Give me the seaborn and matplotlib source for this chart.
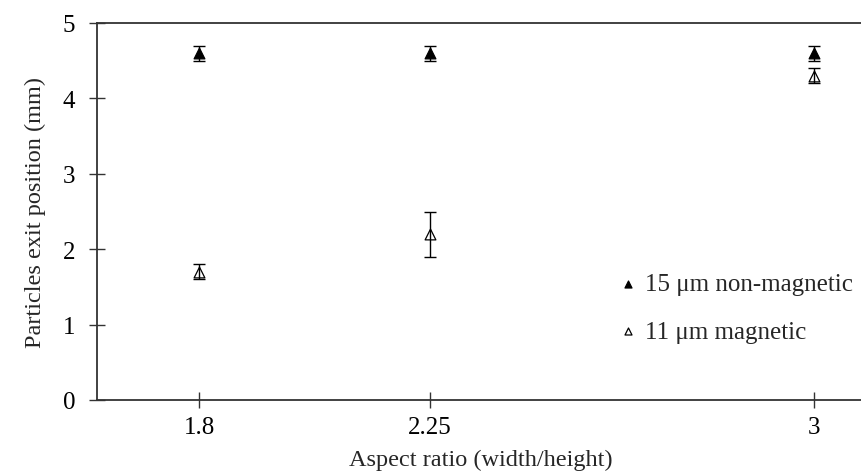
import matplotlib
matplotlib.use("Agg")
import matplotlib.pyplot as plt
import seaborn as sns
import pandas as pd

aspect_ratio = [1.8, 2.25, 3.0]
nonmag_pos = [4.6, 4.6, 4.6]
nonmag_err = [0.1, 0.1, 0.1]
mag_pos = [1.7, 2.2, 4.3]
mag_err = [0.1, 0.3, 0.1]
series_labels = ["15 μm non-magnetic", "11 μm magnetic"]
x_ticks = [1.8, 2.25, 3]
x_ticklabels = ["1.8", "2.25", "3"]
y_ticks = [0, 1, 2, 3, 4, 5]

sns.set_style("white")
plt.rcParams['font.family'] = ['Liberation Serif', 'DejaVu Serif']

df = pd.DataFrame({
    "x": aspect_ratio * 2,
    "y": nonmag_pos + mag_pos,
    "err": nonmag_err + mag_err,
    "series": [series_labels[0]] * 3 + [series_labels[1]] * 3,
})

fig = plt.figure(figsize=(8.62, 4.77), dpi=100)
W, H = 862, 477
ax = fig.add_axes([97 / W, 1 - 401 / H, 768 / W, 377 / H])

sns.scatterplot(data=df[df.series == series_labels[0]], x="x", y="y", ax=ax,
                marker="^", color="black", edgecolor="black", s=60,
                linewidth=0.9, zorder=3, label=series_labels[0])
sns.scatterplot(data=df[df.series == series_labels[1]], x="x", y="y", ax=ax,
                marker="^", color="white", edgecolor="black", s=60,
                linewidth=0.9, zorder=3, label=series_labels[1])

for s in series_labels:
    d = df[df.series == s]
    ax.errorbar(d.x, d.y, yerr=d.err, fmt='none', ecolor='black',
                elinewidth=1.0, capsize=4, capthick=1.0, zorder=4)

ax.set_xlim(1.6, 3.1)
ax.set_ylim(0, 5)
ax.set_xticks(x_ticks)
ax.set_xticklabels(x_ticklabels)
ax.set_yticks(y_ticks)
ax.tick_params(axis='both', which='major', direction='inout', length=11, width=1.0,
               labelsize=18, color='#333333', labelcolor='black',
               bottom=True, left=True, top=False, right=False)
ax.tick_params(axis='x', pad=6)
ax.tick_params(axis='y', pad=10)
for sp in ax.spines.values():
    sp.set_color('#333333')
    sp.set_linewidth(1.3)
ax.spines['right'].set_visible(False)

ax.set_xlabel("Aspect ratio (width/height)", fontsize=17.5, labelpad=8)
ax.set_ylabel("Particles exit position (mm)", fontsize=17.5, labelpad=12)

leg = ax.legend(loc='upper left', bbox_to_anchor=(0.675, 0.337), frameon=False,
                fontsize=18, handletextpad=0.2, handlelength=1.0, labelspacing=1.0,
                markerscale=0.65, borderaxespad=0, borderpad=0)

fig.savefig("out.png", dpi=100)
